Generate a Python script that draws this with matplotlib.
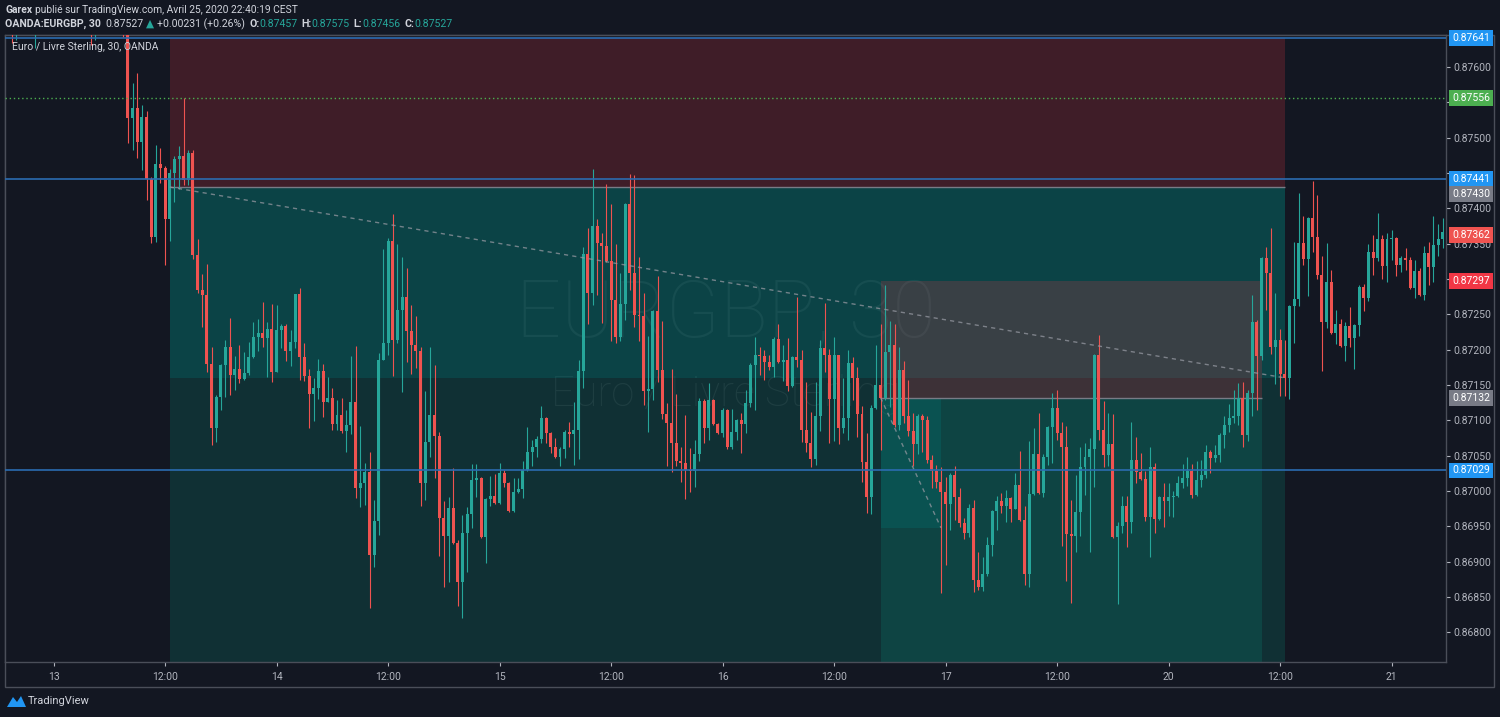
import numpy as np
import matplotlib.pyplot as plt
from matplotlib.patches import Rectangle, Polygon

# EURGBP 30 min bars, prices in 1e-5 units. bar 0 = 13 Apr 00:00
first_bar = -10
open_pts = [
    87680, 87702, 87666, 87687, 87673, 87694, 87666, 87680, 87709, 87687,
    87716, 87694, 87723, 87702, 87730, 87709, 87687, 87702, 87673, 87659,
    87680, 87666, 87687, 87673, 87694, 87666, 87659, 87528, 87542, 87494,
    87529, 87441, 87359, 87463, 87457, 87385, 87450, 87470, 87474, 87440,
    87478, 87334, 87284, 87277, 87180, 87089, 87133, 87178, 87204, 87164,
    87173, 87158, 87167, 87190, 87218, 87223, 87216, 87229, 87168, 87228,
    87233, 87198, 87211, 87279, 87190, 87163, 87137, 87146, 87170, 87126,
    87132, 87095, 87107, 87085, 87093, 87126, 87004, 87011, 87027, 86909,
    86958, 87185, 87209, 87354, 87214, 87256, 87274, 87226, 87207, 87198,
    87011, 87069, 87107, 87078, 86962, 86936, 86976, 86926, 86871, 86941,
    86967, 87016, 87018, 86935, 86989, 86993, 86983, 87025, 87011, 86972,
    86999, 87003, 87030, 87055, 87062, 87074, 87103, 87082, 87062, 87048,
    87059, 87083, 87081, 87086, 87170, 87335, 87280, 87375, 87351, 87347,
    87325, 87270, 87218, 87264, 87406, 87308, 87249, 87248, 87141, 87144,
    87255, 87171, 87109, 87096, 87068, 87042, 87040, 87030, 87028, 87052,
    87127, 87089, 87129, 87095, 87082, 87115, 87062, 87083, 87100, 87095,
    87124, 87178, 87192, 87191, 87182, 87175, 87215, 87182, 87185, 87149,
    87190, 87185, 87086, 87068, 87045, 87106, 87202, 87192, 87130, 87192,
    87089, 87103, 87181, 87160, 87109, 87041, 86992, 87117, 87150, 87132,
    87197, 87207, 87093, 87171, 87106, 87085, 87066, 87106, 87100, 87044,
    87028, 87013, 86999, 86982, 87023, 86992, 86955, 86941, 86976, 86874,
    86864, 86883, 86924, 86972, 86986, 86979, 86990, 86975, 87008, 86959,
    86883, 86996, 87052, 86997, 87048, 87091, 87117, 87082, 87062, 86939,
    86937, 86970, 87034, 87048, 87059, 87192, 87086, 87051, 87066, 86935,
    86950, 86979, 86956, 87044, 87027, 87017, 86963, 87034, 86960, 86992,
    86986, 86992, 86993, 87011, 87018, 87028, 86994, 87016, 87023, 87055,
    87047, 87051, 87079, 87093, 87103, 87106, 87132, 87079, 87139, 87239,
    87191, 87330, 87308, 87204, 87214, 87165, 87160, 87262, 87272, 87351,
    87328, 87386, 87359, 87305, 87239, 87296, 87223, 87236, 87205, 87233,
    87216, 87235, 87289, 87273, 87338, 87330, 87356, 87318, 87356, 87358,
    87320, 87330, 87327, 87287, 87311, 87277, 87337, 87317, 87348, 87356,
]
high_pts = [
    87723, 87716, 87709, 87702, 87709, 87716, 87694, 87730, 87723, 87737,
    87744, 87737, 87751, 87758, 87744, 87723, 87716, 87709, 87687, 87694,
    87702, 87709, 87702, 87709, 87709, 87680, 87673, 87577, 87591, 87546,
    87537, 87444, 87489, 87485, 87460, 87455, 87474, 87488, 87556, 87482,
    87482, 87356, 87307, 87321, 87204, 87136, 87180, 87214, 87245, 87191,
    87207, 87197, 87211, 87239, 87243, 87267, 87239, 87264, 87263, 87236,
    87236, 87228, 87279, 87287, 87209, 87173, 87160, 87187, 87180, 87161,
    87146, 87129, 87132, 87115, 87191, 87205, 87092, 87040, 87055, 86987,
    87195, 87342, 87358, 87392, 87349, 87331, 87315, 87263, 87248, 87204,
    87141, 87204, 87178, 87083, 86986, 86992, 87033, 86931, 86966, 86977,
    87038, 87038, 87020, 86990, 87021, 87024, 87040, 87030, 87013, 87018,
    87018, 87042, 87091, 87072, 87078, 87120, 87105, 87083, 87075, 87062,
    87086, 87098, 87126, 87185, 87345, 87372, 87455, 87385, 87365, 87434,
    87406, 87349, 87308, 87408, 87448, 87447, 87331, 87280, 87219, 87256,
    87304, 87240, 87124, 87173, 87137, 87062, 87107, 87061, 87072, 87132,
    87130, 87153, 87130, 87096, 87117, 87116, 87116, 87102, 87110, 87143,
    87181, 87218, 87204, 87199, 87192, 87218, 87236, 87207, 87216, 87191,
    87274, 87199, 87154, 87112, 87154, 87214, 87266, 87201, 87218, 87193,
    87160, 87199, 87190, 87175, 87120, 87082, 87122, 87207, 87236, 87291,
    87240, 87236, 87204, 87184, 87157, 87110, 87109, 87109, 87106, 87051,
    87037, 87034, 87020, 87025, 87035, 87004, 86962, 86982, 86987, 86914,
    86907, 86935, 86973, 86993, 86997, 87001, 86992, 87025, 87057, 86979,
    87071, 87089, 87110, 87052, 87092, 87139, 87143, 87098, 87092, 86987,
    87023, 87062, 87068, 87075, 87194, 87221, 87127, 87110, 87109, 86956,
    86993, 86993, 87098, 87076, 87054, 87028, 87062, 87040, 86993, 87011,
    87011, 87000, 87021, 87038, 87048, 87038, 87042, 87044, 87065, 87058,
    87065, 87082, 87106, 87123, 87143, 87153, 87154, 87143, 87277, 87242,
    87331, 87345, 87372, 87280, 87229, 87214, 87263, 87352, 87421, 87389,
    87387, 87438, 87419, 87332, 87351, 87313, 87256, 87243, 87239, 87260,
    87236, 87291, 87293, 87349, 87362, 87393, 87362, 87365, 87369, 87359,
    87332, 87344, 87331, 87327, 87315, 87347, 87352, 87389, 87378, 87386,
]
low_pts = [
    87659, 87634, 87638, 87652, 87655, 87649, 87627, 87666, 87669, 87678,
    87673, 87680, 87683, 87687, 87680, 87666, 87659, 87652, 87631, 87638,
    87649, 87652, 87655, 87659, 87652, 87642, 87492, 87482, 87471, 87454,
    87412, 87351, 87352, 87436, 87320, 87354, 87409, 87427, 87433, 87433,
    87328, 87280, 87232, 87168, 87065, 87069, 87115, 87133, 87136, 87143,
    87153, 87157, 87164, 87188, 87198, 87204, 87161, 87154, 87168, 87202,
    87184, 87177, 87202, 87157, 87156, 87089, 87099, 87130, 87105, 87126,
    87086, 87086, 87082, 87055, 87081, 86990, 86977, 86980, 86835, 86893,
    86938, 87185, 87192, 87163, 87209, 87140, 87182, 87165, 87174, 86979,
    86987, 87048, 87018, 86908, 86864, 86871, 86925, 86837, 86820, 86885,
    86948, 86992, 86934, 86898, 86979, 86982, 86982, 87006, 86970, 86970,
    86997, 86990, 87028, 87035, 87048, 87068, 87068, 87054, 87047, 87035,
    87047, 87062, 87037, 87045, 87146, 87236, 87263, 87277, 87238, 87324,
    87212, 87209, 87212, 87242, 87284, 87232, 87212, 87122, 87083, 87129,
    87154, 87102, 87035, 87027, 87035, 87013, 86989, 86999, 87006, 87042,
    87068, 87072, 87093, 87081, 87076, 87059, 87059, 87072, 87054, 87082,
    87119, 87115, 87164, 87157, 87171, 87161, 87181, 87156, 87141, 87147,
    87175, 87069, 87055, 87034, 87037, 87085, 87168, 87068, 87071, 87066,
    87082, 87072, 87129, 87076, 87013, 86969, 86967, 87116, 87058, 87129,
    87119, 87091, 87086, 87096, 87078, 87035, 87052, 87055, 87040, 87004,
    87004, 86856, 86895, 86945, 86959, 86949, 86932, 86935, 86857, 86860,
    86859, 86880, 86908, 86945, 86969, 86956, 86956, 86974, 86958, 86867,
    86864, 86994, 86996, 86992, 87037, 87040, 87072, 86922, 86873, 86842,
    86914, 86936, 86994, 86914, 87006, 87072, 87034, 87035, 86934, 86840,
    86941, 86921, 86941, 87011, 87015, 86958, 86907, 86941, 86959, 86949,
    86965, 86963, 86992, 87004, 87007, 86990, 86993, 87006, 87018, 87025,
    87041, 87041, 87061, 87083, 87096, 87093, 87062, 87071, 87106, 87115,
    87185, 87256, 87194, 87151, 87134, 87134, 87130, 87209, 87262, 87320,
    87276, 87338, 87300, 87170, 87231, 87222, 87208, 87204, 87184, 87204,
    87173, 87219, 87255, 87269, 87306, 87325, 87300, 87296, 87327, 87304,
    87310, 87313, 87286, 87273, 87276, 87270, 87291, 87296, 87332, 87344,
]
close_pts = [
    87702, 87666, 87687, 87673, 87694, 87666, 87680, 87709, 87687, 87716,
    87694, 87723, 87702, 87730, 87709, 87687, 87702, 87673, 87659, 87680,
    87666, 87687, 87673, 87694, 87666, 87659, 87528, 87542, 87494, 87529,
    87441, 87359, 87463, 87457, 87385, 87450, 87470, 87474, 87440, 87478,
    87334, 87284, 87277, 87180, 87089, 87133, 87178, 87204, 87164, 87173,
    87158, 87167, 87190, 87218, 87223, 87216, 87229, 87168, 87228, 87233,
    87198, 87211, 87279, 87190, 87163, 87137, 87146, 87170, 87126, 87132,
    87095, 87107, 87085, 87093, 87126, 87004, 87011, 87027, 86909, 86958,
    87185, 87209, 87354, 87214, 87256, 87274, 87226, 87207, 87198, 87011,
    87069, 87107, 87078, 86962, 86936, 86976, 86926, 86871, 86941, 86967,
    87016, 87018, 86935, 86989, 86993, 86983, 87025, 87011, 86972, 86999,
    87003, 87030, 87055, 87062, 87074, 87103, 87082, 87062, 87048, 87059,
    87083, 87081, 87086, 87170, 87335, 87280, 87375, 87351, 87347, 87325,
    87270, 87218, 87264, 87406, 87308, 87249, 87248, 87141, 87144, 87255,
    87171, 87109, 87096, 87068, 87042, 87040, 87030, 87028, 87052, 87127,
    87089, 87129, 87095, 87082, 87115, 87062, 87083, 87100, 87095, 87124,
    87178, 87192, 87191, 87182, 87175, 87215, 87182, 87185, 87149, 87190,
    87185, 87086, 87068, 87045, 87106, 87202, 87192, 87130, 87192, 87089,
    87103, 87181, 87160, 87109, 87041, 86992, 87117, 87150, 87132, 87197,
    87207, 87093, 87171, 87106, 87085, 87066, 87106, 87100, 87044, 87028,
    87013, 86999, 86982, 87023, 86992, 86955, 86941, 86976, 86874, 86864,
    86883, 86924, 86972, 86986, 86979, 86990, 86975, 87008, 86959, 86883,
    86996, 87052, 86997, 87048, 87091, 87117, 87082, 87062, 86939, 86937,
    86970, 87034, 87048, 87059, 87192, 87086, 87051, 87066, 86935, 86950,
    86979, 86956, 87044, 87027, 87017, 86963, 87034, 86960, 86992, 86986,
    86992, 86993, 87011, 87018, 87028, 86994, 87016, 87023, 87055, 87047,
    87051, 87079, 87093, 87103, 87106, 87132, 87079, 87139, 87239, 87191,
    87330, 87308, 87204, 87214, 87165, 87160, 87262, 87272, 87351, 87328,
    87386, 87359, 87305, 87239, 87296, 87223, 87236, 87205, 87233, 87216,
    87235, 87289, 87273, 87338, 87330, 87356, 87318, 87356, 87358, 87320,
    87330, 87327, 87287, 87311, 87277, 87337, 87317, 87348, 87356, 87366,
]

time_label_bars = [0, 24, 48, 72, 96, 120, 144, 168, 192, 216, 240, 264, 288]
time_labels = ['13', '12:00', '14', '12:00', '15', '12:00', '16', '12:00',
               '17', '12:00', '20', '12:00', '21']
price_ticks = [0.8680, 0.86850, 0.8690, 0.86950, 0.8700, 0.87050, 0.8710, 0.87150,
               0.8720, 0.87250, 0.8730, 0.87350, 0.8740, 0.87450, 0.8750, 0.87550,
               0.8760]
# tick labels sitting under a price label box are left blank
covered_ticks = [0.8730, 0.87450, 0.87550]

# drawings
h_lines = [0.87641, 0.87441, 0.87029]
dotted_level = 0.87556
short_1 = dict(start=25, end=265, entry=0.87430, stop=0.87641, target=0.86600,
               exit_bar=265, exit_price=0.87160)
short_2 = dict(start=178, end=260, entry=0.87132, stop=0.87297, target=0.86600,
               exit_bar=191, exit_price=0.86948)
# (price, colour, pixel shift)
price_labels = [
    (0.87641, '#2196f3', 0), (0.87556, '#4caf50', 0), (0.87441, '#2196f3', 0),
    (0.87430, '#787b86', -7), (0.87362, '#ef5350', 0), (0.87297, '#f23645', 0),
    (0.87132, '#787b86', 0), (0.87029, '#2196f3', 0),
]

last_price = '0.87527'
change = '+0.00231 (+0.26%)'
bar_o, bar_h, bar_l, bar_c = '0.87457', '0.87575', '0.87456', '0.87527'

BG = '#131722'
UP = '#26a69a'
DOWN = '#ef5350'
TXT = '#d1d4dc'
AXT = '#b2b5be'
BORDER = '#4a4e59'
FONT = ['Roboto', 'DejaVu Sans']
W, H = 1500, 717

plt.rcParams['font.family'] = FONT


def fx(px):
    return px / W


def fy(py):
    return 1 - py / H


fig = plt.figure(figsize=(W / 100, H / 100), dpi=100, facecolor=BG)

# outer frame of the chart widget, kept behind the chart pane
fig.add_artist(Rectangle((fx(5), fy(687)), (1494 - 5) / W, (687 - 35) / H,
                         transform=fig.transFigure, fill=False, ec=BORDER, lw=1, zorder=-1))

ax = fig.add_axes([fx(5), fy(662), (1446 - 5) / W, (662 - 35) / H], facecolor=BG)
ax.set_xlim(-10.46, 299.7)
ax.set_ylim(0.867581, 0.876450)

o = np.array(open_pts) / 1e5
h = np.array(high_pts) / 1e5
l = np.array(low_pts) / 1e5
c = np.array(close_pts) / 1e5
x = np.arange(first_bar, first_bar + len(c))
col = np.where(c >= o, UP, DOWN)

# watermark
ax.text(0.5, 0.553, 'EURGBP, 30', transform=ax.transAxes, ha='center', va='center',
        fontsize=57, color='white', alpha=0.075, fontweight='light', zorder=0.5)
ax.text(0.5, 0.426, 'Euro / Livre Sterling', transform=ax.transAxes, ha='center',
        va='center', fontsize=30, color='white', alpha=0.075, fontweight='light', zorder=0.5)


def draw_position(p):
    x0, x1 = p['start'], p['end']
    ax.fill_between([x0, x1], p['entry'], p['stop'], color='#f23645', alpha=0.2, lw=0, zorder=1)
    ax.fill_between([x0, x1], p['entry'], p['target'], color='#089981', alpha=0.2, lw=0, zorder=1)
    ax.fill_between([x0, p['exit_bar']], p['entry'], p['exit_price'], color='#007d7d',
                    alpha=0.25, lw=0, zorder=1)
    ax.hlines(p['entry'], x0, x1, color='#787b86', lw=1, zorder=2)
    ax.plot([x0, p['exit_bar']], [p['entry'], p['exit_price']], ls=(0, (3, 3)),
            color='#9598a1', lw=1, alpha=0.75, zorder=4)


draw_position(short_1)
draw_position(short_2)

# candles
ax.vlines(x, l, h, colors=col, lw=0.8, zorder=3)
body_low = np.minimum(o, c)
body_h = np.maximum(np.abs(c - o), 0.000012)
ax.bar(x, body_h, bottom=body_low, width=0.64, color=col, lw=0, zorder=3.1)

for lv in h_lines:
    ax.axhline(lv, color='#2b6cb0', lw=1.2, zorder=4)
ax.axhline(dotted_level, color='#4caf50', lw=1.0, ls=(0, (1, 2)), zorder=4)

# axes styling
for s in ax.spines.values():
    s.set_color(BORDER)
    s.set_linewidth(1)
ax.set_xticks(time_label_bars)
ax.set_xticklabels(time_labels)
ax.set_yticks(price_ticks)
ax.set_yticklabels(['' if any(abs(t - k) < 1e-7 for k in covered_ticks) else f'{t:.5f}'
                    for t in price_ticks])
ax.yaxis.tick_right()
ax.tick_params(axis='x', length=3, width=0.8, color=AXT, labelcolor=AXT, labelsize=7.5, pad=4)
ax.tick_params(axis='y', length=3, width=0.8, color=AXT, labelcolor=AXT, labelsize=7.5, pad=2)

for price, colr, shift in price_labels:
    ax.annotate(f'{price:.5f}', xy=(1, price), xycoords=('axes fraction', 'data'),
                xytext=(6, shift), textcoords='offset pixels', ha='left', va='center',
                fontsize=7.5, color='white', annotation_clip=False, zorder=6,
                bbox=dict(boxstyle='square,pad=0.28', fc=colr, ec='none'))

ax.text(0.005, 0.981, 'Euro / Livre Sterling, 30, OANDA', transform=ax.transAxes,
        ha='left', va='center', fontsize=7.5, color=TXT, zorder=7)

# header lines
renderer = fig.canvas.get_renderer()


def put_runs(x_px, y_px, runs, size):
    for text, colr, weight, gap in runs:
        t = fig.text(fx(x_px), fy(y_px), text, color=colr, fontsize=size,
                     fontweight=weight, ha='left', va='center')
        x_px += t.get_window_extent(renderer=renderer).width + gap


put_runs(5, 10, [('Garex', TXT, 'bold', 3),
                 ('publié sur TradingView.com, Avril 25, 2020 22:40:19 CEST', TXT, 'normal', 0)], 7.4)
put_runs(5, 24, [('OANDA:EURGBP, 30', TXT, 'bold', 4),
                 (last_price, TXT, 'normal', 3), ('▲', UP, 'normal', 3),
                 (change, TXT, 'normal', 4),
                 ('O:', TXT, 'bold', 0), (bar_o, UP, 'normal', 4),
                 ('H:', TXT, 'bold', 0), (bar_h, UP, 'normal', 4),
                 ('L:', TXT, 'bold', 0), (bar_l, UP, 'normal', 4),
                 ('C:', TXT, 'bold', 0), (bar_c, UP, 'normal', 0)], 7.6)

# footer logo
fig.add_artist(Polygon([(fx(7), fy(707)), (fx(13), fy(697)), (fx(17), fy(702)),
                        (fx(21), fy(696)), (fx(26), fy(707))],
                       closed=True, transform=fig.transFigure, fc='#2196f3', ec='none'))
fig.text(fx(28), fy(701), 'TradingView', color=TXT, fontsize=8, ha='left', va='center')

fig.savefig('out.png', dpi=100, facecolor=BG)
